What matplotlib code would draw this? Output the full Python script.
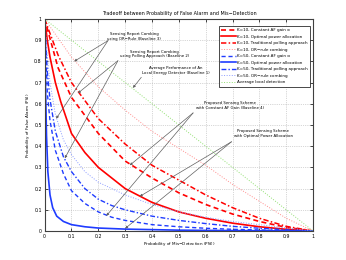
import numpy as np
import matplotlib
matplotlib.use('Agg')
import matplotlib.pyplot as plt

# P_MD sample points and P_FA values
pmd_a = [0, 0.01, 0.02, 0.04, 0.06, 0.1, 0.15, 0.2, 0.3, 0.4, 0.5, 0.6, 0.7, 0.8, 0.9, 1]
pfa_k10_opt = [1, 0.9, 0.82, 0.70, 0.61, 0.46, 0.37, 0.30, 0.20, 0.135, 0.09, 0.06, 0.037, 0.02, 0.008, 0]

pmd_b = [0, 0.05, 0.1, 0.2, 0.3, 0.4, 0.5, 0.6, 0.7, 0.8, 0.9, 1]
pfa_k10_poll = [1, 0.83, 0.70, 0.53, 0.41, 0.31, 0.24, 0.17, 0.11, 0.06, 0.022, 0]
pfa_k10_af = [1, 0.77, 0.63, 0.46, 0.33, 0.25, 0.18, 0.125, 0.08, 0.045, 0.017, 0]

pmd_c = [0, 0.1, 0.2, 0.3, 0.4, 0.5, 0.6, 0.7, 0.8, 0.9, 1]
pfa_k10_or = [1, 0.82, 0.68, 0.57, 0.47, 0.39, 0.31, 0.22, 0.14, 0.06, 0]

pmd_d = [0, 0.01, 0.02, 0.04, 0.07, 0.1, 0.15, 0.2, 0.25, 0.3, 0.4, 0.5, 0.6, 0.7, 0.8, 0.9, 1]
pfa_k50_or = [1, 0.82, 0.7, 0.55, 0.43, 0.36, 0.28, 0.23, 0.2, 0.17, 0.125, 0.09, 0.065, 0.045, 0.03, 0.015, 0]
pfa_k50_poll = [1, 0.75, 0.62, 0.47, 0.35, 0.28, 0.2, 0.15, 0.12, 0.1, 0.07, 0.05, 0.035, 0.022, 0.013, 0.006, 0]
pfa_k50_af = [1, 0.65, 0.52, 0.38, 0.27, 0.19, 0.13, 0.09, 0.065, 0.05, 0.03, 0.02, 0.013, 0.008, 0.005, 0.002, 0]

pmd_e = [0, 0.003, 0.007, 0.012, 0.02, 0.03, 0.045, 0.07, 0.1, 0.15, 0.2, 0.3, 0.5, 0.7, 1]
pfa_k50_opt = [1, 0.7, 0.45, 0.28, 0.17, 0.11, 0.07, 0.045, 0.03, 0.02, 0.014, 0.009, 0.004, 0.002, 0]

pmd_local = [0, 1]
pfa_local = [1, 0]

ticks = [0, 0.1, 0.2, 0.3, 0.4, 0.5, 0.6, 0.7, 0.8, 0.9, 1]
tick_labels = ['0', '0.1', '0.2', '0.3', '0.4', '0.5', '0.6', '0.7', '0.8', '0.9', '1']

fig = plt.figure(figsize=(3.46, 2.6), dpi=100)
ax = fig.add_axes([0.129, 0.1115, 0.776, 0.8155])

ax.plot(pmd_b, pfa_k10_af, color='red', ls=(0, (3, 2)), lw=1.2, label='K=10, Constant AF gain \u03b1')
ax.plot(pmd_a, pfa_k10_opt, color='red', ls='-', lw=1.2, label='K=10, Optimal power allocation')
ax.plot(pmd_b, pfa_k10_poll, color='red', ls=(0, (3.5, 1.5, 1, 1.5)), lw=1.1, label='K=10, Traditional polling approach')
ax.plot(pmd_c, pfa_k10_or, color='#ff8c8c', ls=':', lw=0.7, label='K=10, OR\u2212rule combing')
ax.plot(pmd_d, pfa_k50_af, color='#1f3cff', ls=(0, (3, 2)), lw=1.0, label='K=50, Constant AF gain \u03b1')
ax.plot(pmd_e, pfa_k50_opt, color='#1f3cff', ls='-', lw=1.2, label='K=50, Optimal power allocation')
ax.plot(pmd_d, pfa_k50_poll, color='#1f3cff', ls=(0, (3.5, 1.5, 1, 1.5)), lw=1.0, label='K=50, Traditional polling approach')
ax.plot(pmd_d, pfa_k50_or, color='#8c9cff', ls=':', lw=0.7, label='K=50, OR\u2212rule combing')
ax.plot(pmd_local, pfa_local, color='#90e070', ls=':', lw=0.7, label='Average local detection')

ax.set_xlim(0, 1)
ax.set_ylim(0, 1)
ax.set_xticks(ticks)
ax.set_yticks(ticks)
ax.set_xticklabels(tick_labels)
ax.set_yticklabels(tick_labels)
ax.tick_params(direction='in', labelsize=3.4, length=2, width=0.5, pad=2, top=True, right=True)
ax.grid(True, ls=':', lw=0.5, color='#b0b0b0')
for s in ax.spines.values():
    s.set_linewidth(0.8)
    s.set_color('#404040')

ax.set_title('Tradeoff between Probability of False Alarm and Mis\u2212Detection', fontsize=3.5, pad=3)
ax.set_xlabel('Probability of Mis\u2212Detection (P$_{MD}$)', fontsize=3.0, labelpad=1)
ax.set_ylabel('Probability of False Alarm (P$_{FA}$)', fontsize=3.0, labelpad=1.5)

leg = ax.legend(loc='upper right', fontsize=3.0, handlelength=3.6, borderpad=0.5,
                labelspacing=0.6, handletextpad=0.3, fancybox=False, framealpha=1,
                edgecolor='black', bbox_to_anchor=(0.995, 0.975))
leg.get_frame().set_linewidth(0.5)

arrow_kw = dict(arrowstyle='-|>', color='#606060', lw=0.5, mutation_scale=3.5,
                shrinkA=0, shrinkB=0)
annots = [
    ('Sensing Report Combing\nusing OR\u2212Rule (Baseline 3)', (0.333, 0.918), (0.236, 0.898),
     [(0.11, 0.80), (0.043, 0.53)]),
    ('Sensing Report Combing\nusing Polling Approach (Baseline 2)', (0.41, 0.835), (0.273, 0.803),
     [(0.124, 0.65), (0.075, 0.343)]),
    ('Average Performance of An\nLocal Energy Detector (Baseline 1)', (0.49, 0.756), (0.36, 0.725),
     [(0.329, 0.675)]),
    ('Proposed Sensing Scheme\nwith Constant AF Gain (Baseline 4)', (0.69, 0.59), (0.553, 0.557),
     [(0.317, 0.31), (0.23, 0.072)]),
    ('Proposed Sensing Scheme\nwith Optimal Power Allocation', (0.814, 0.458), (0.696, 0.421),
     [(0.354, 0.163), (0.30, 0.012)]),
]
for txt, tpos, src, targets in annots:
    ax.text(tpos[0], tpos[1], txt, fontsize=2.8, ha='center', va='center', linespacing=1.3)
    for tgt in targets:
        ax.annotate('', xy=tgt, xytext=src, arrowprops=arrow_kw)

fig.savefig('out.png', dpi=100)
